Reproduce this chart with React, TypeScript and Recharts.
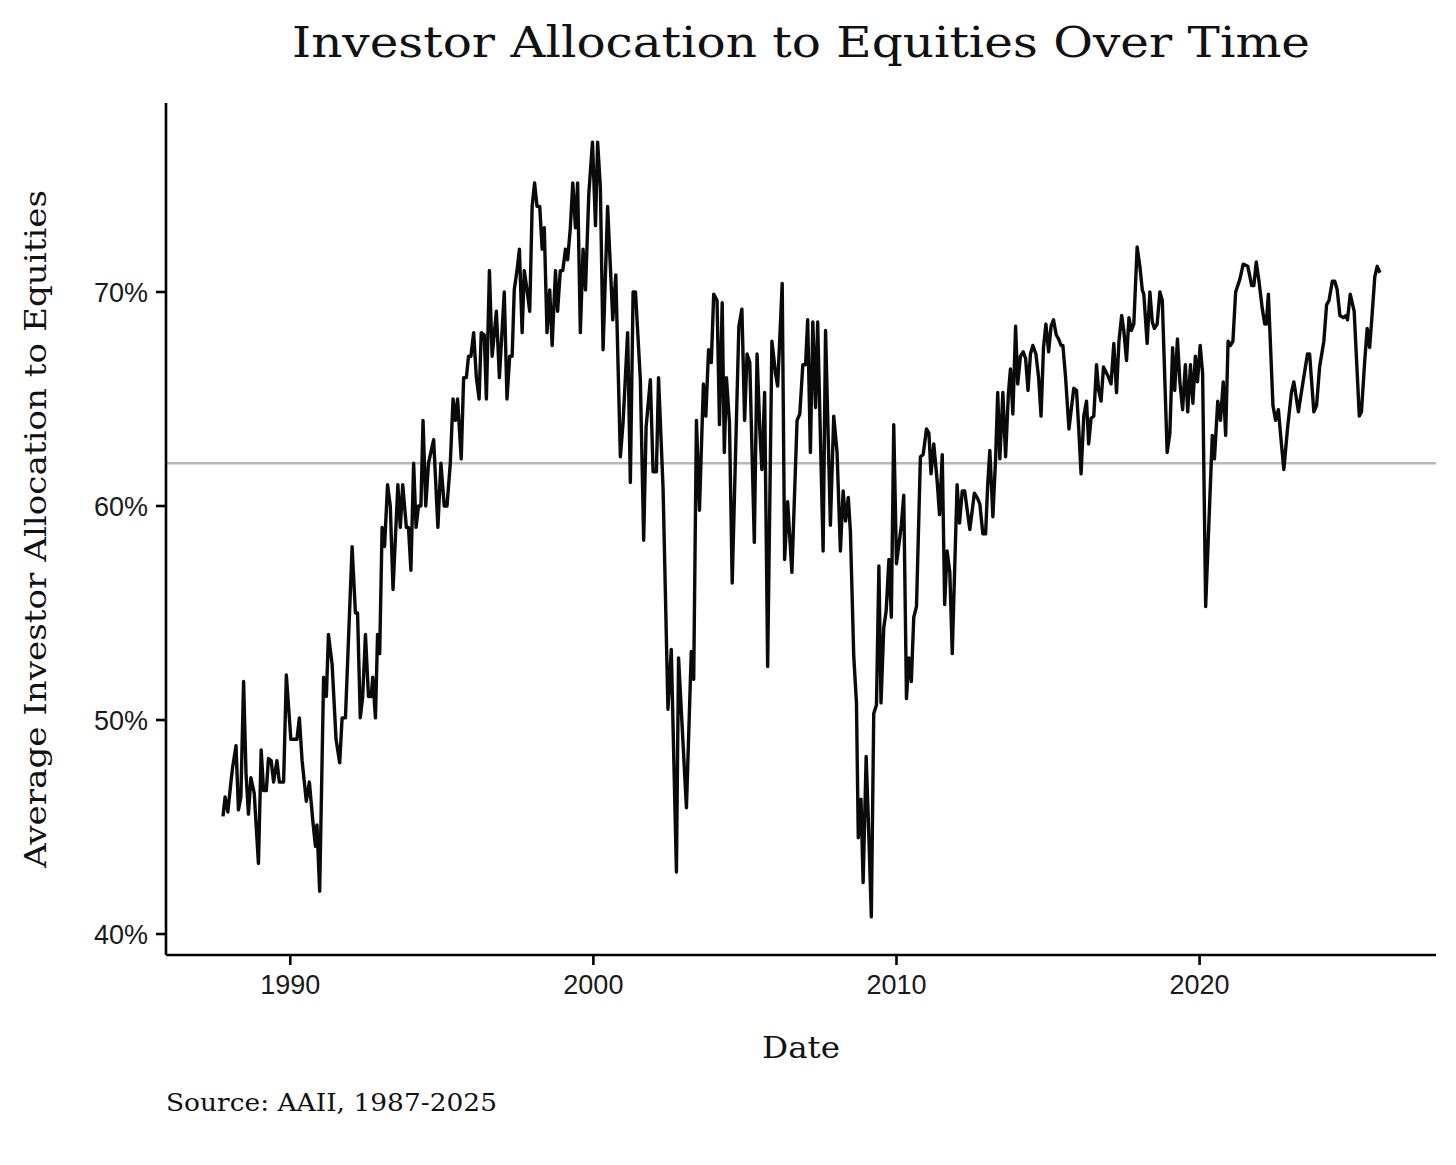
import { LineChart, Line, XAxis, YAxis, ReferenceLine } from "recharts";

// Monthly AAII average allocation to equities
const years = [
  1987.78, 1987.85, 1987.94, 1988.05, 1988.1, 1988.21, 1988.29, 1988.37, 1988.46, 1988.54,
  1988.62, 1988.7, 1988.81, 1988.95, 1989.04, 1989.12, 1989.21, 1989.28, 1989.37, 1989.45,
  1989.56, 1989.64, 1989.78, 1989.87, 1990.02, 1990.22, 1990.3, 1990.39, 1990.53, 1990.63,
  1990.75, 1990.83, 1990.88, 1990.97, 1991.1, 1991.19, 1991.26, 1991.38, 1991.51, 1991.63,
  1991.71, 1991.82, 1992.04, 1992.15, 1992.22, 1992.31, 1992.39, 1992.48, 1992.58, 1992.67,
  1992.72, 1992.81, 1992.88, 1992.95, 1993.03, 1993.11, 1993.21, 1993.3, 1993.39, 1993.55,
  1993.63, 1993.71, 1993.83, 1993.9, 1993.98, 1994.07, 1994.15, 1994.23, 1994.31, 1994.38,
  1994.47, 1994.56, 1994.73, 1994.87, 1994.97, 1995.08, 1995.17, 1995.28, 1995.37, 1995.45,
  1995.52, 1995.64, 1995.72, 1995.81, 1995.88, 1995.96, 1996.05, 1996.14, 1996.23, 1996.3,
  1996.4, 1996.47, 1996.57, 1996.66, 1996.8, 1996.9, 1997.06, 1997.15, 1997.24, 1997.32,
  1997.39, 1997.48, 1997.56, 1997.65, 1997.72, 1997.81, 1997.9, 1997.98, 1998.06, 1998.14,
  1998.23, 1998.31, 1998.38, 1998.47, 1998.56, 1998.64, 1998.75, 1998.82, 1998.91, 1998.99,
  1999.08, 1999.15, 1999.24, 1999.32, 1999.41, 1999.48, 1999.57, 1999.66, 1999.74, 1999.85,
  1999.97, 2000.07, 2000.14, 2000.23, 2000.32, 2000.47, 2000.64, 2000.74, 2000.89, 2000.98,
  2001.13, 2001.22, 2001.31, 2001.39, 2001.55, 2001.66, 2001.74, 2001.88, 2001.97, 2002.08,
  2002.15, 2002.3, 2002.46, 2002.57, 2002.74, 2002.81, 2003.07, 2003.23, 2003.31, 2003.4,
  2003.5, 2003.63, 2003.71, 2003.8, 2003.89, 2003.97, 2004.08, 2004.16, 2004.25, 2004.32,
  2004.39, 2004.49, 2004.58, 2004.8, 2004.9, 2004.99, 2005.07, 2005.16, 2005.31, 2005.4,
  2005.49, 2005.56, 2005.65, 2005.75, 2005.89, 2006.01, 2006.08, 2006.23, 2006.31, 2006.41,
  2006.55, 2006.72, 2006.81, 2006.91, 2007.0, 2007.07, 2007.16, 2007.24, 2007.33, 2007.4,
  2007.58, 2007.66, 2007.82, 2007.93, 2008.04, 2008.15, 2008.24, 2008.32, 2008.41, 2008.48,
  2008.59, 2008.68, 2008.74, 2008.83, 2008.9, 2009.0, 2009.09, 2009.17, 2009.25, 2009.34,
  2009.42, 2009.49, 2009.58, 2009.66, 2009.75, 2009.83, 2009.91, 2010.0, 2010.08, 2010.16,
  2010.24, 2010.33, 2010.41, 2010.49, 2010.57, 2010.66, 2010.79, 2010.88, 2010.99, 2011.07,
  2011.14, 2011.23, 2011.34, 2011.42, 2011.51, 2011.59, 2011.67, 2011.76, 2011.84, 2012.0,
  2012.08, 2012.17, 2012.25, 2012.42, 2012.57, 2012.66, 2012.75, 2012.85, 2012.94, 2013.01,
  2013.08, 2013.18, 2013.27, 2013.34, 2013.41, 2013.51, 2013.6, 2013.69, 2013.76, 2013.84,
  2013.93, 2014.0, 2014.09, 2014.18, 2014.26, 2014.34, 2014.42, 2014.5, 2014.6, 2014.69,
  2014.77, 2014.85, 2014.93, 2015.02, 2015.1, 2015.18, 2015.27, 2015.35, 2015.43, 2015.49,
  2015.58, 2015.69, 2015.85, 2015.94, 2016.01, 2016.09, 2016.18, 2016.27, 2016.34, 2016.42,
  2016.51, 2016.6, 2016.67, 2016.75, 2016.83, 2016.97, 2017.08, 2017.17, 2017.26, 2017.34,
  2017.43, 2017.5, 2017.59, 2017.67, 2017.75, 2017.83, 2017.94, 2018.03, 2018.11, 2018.16,
  2018.27, 2018.36, 2018.44, 2018.51, 2018.6, 2018.69, 2018.77, 2018.93, 2019.02, 2019.11,
  2019.18, 2019.27, 2019.35, 2019.44, 2019.53, 2019.61, 2019.7, 2019.78, 2019.86, 2019.93,
  2020.02, 2020.1, 2020.2, 2020.42, 2020.49, 2020.6, 2020.69, 2020.78, 2020.86, 2020.94,
  2021.02, 2021.1, 2021.19, 2021.33, 2021.44, 2021.59, 2021.72, 2021.79, 2021.87, 2021.96,
  2022.07, 2022.15, 2022.2, 2022.27, 2022.42, 2022.51, 2022.6, 2022.7, 2022.78, 2022.9,
  2023.03, 2023.11, 2023.26, 2023.39, 2023.56, 2023.63, 2023.77, 2023.86, 2023.96, 2024.1,
  2024.19, 2024.27, 2024.38, 2024.46, 2024.54, 2024.63, 2024.74, 2024.83, 2024.88, 2024.97,
  2025.1, 2025.27, 2025.34, 2025.45, 2025.53, 2025.61, 2025.69, 2025.78, 2025.86, 2025.95,
];

const allocation = [
  45.5, 46.4, 45.7, 47.2, 47.8, 48.8, 45.8, 46.4, 51.8, 47.5,
  45.6, 47.3, 46.6, 43.3, 48.6, 46.7, 46.7, 48.2, 48.1, 47.1,
  48.1, 47.1, 47.1, 52.1, 49.1, 49.1, 50.1, 48.1, 46.2, 47.1,
  45.2, 44.1, 45.1, 42.0, 52.0, 51.1, 54.0, 52.6, 49.1, 48.0,
  50.1, 50.1, 58.1, 55.0, 55.0, 50.1, 51.1, 54.0, 51.1, 51.1,
  52.0, 50.1, 54.0, 53.1, 59.0, 58.1, 61.0, 60.0, 56.1, 61.0,
  59.0, 61.0, 59.0, 59.0, 57.0, 62.0, 59.0, 60.0, 60.0, 64.0,
  60.0, 62.0, 63.1, 59.0, 62.0, 60.0, 60.0, 62.0, 65.0, 64.0,
  65.0, 62.2, 66.0, 66.0, 67.0, 67.0, 68.1, 66.0, 65.0, 68.1,
  68.0, 65.0, 71.0, 67.0, 69.1, 66.0, 70.0, 65.0, 67.0, 67.0,
  70.1, 71.0, 72.0, 68.1, 71.0, 70.1, 69.1, 74.0, 75.1, 74.0,
  74.0, 72.0, 73.0, 68.1, 70.1, 67.5, 71.0, 69.1, 71.0, 71.0,
  72.0, 71.5, 73.0, 75.1, 73.0, 75.1, 68.1, 72.0, 70.1, 74.6,
  77.0, 73.1, 77.0, 74.9, 67.3, 74.0, 68.7, 70.8, 62.3, 63.9,
  68.1, 61.1, 70.0, 70.0, 65.9, 58.4, 63.7, 65.9, 61.6, 61.6,
  66.0, 60.8, 50.5, 53.3, 42.9, 52.9, 45.9, 53.2, 51.9, 64.0,
  59.8, 65.7, 64.2, 67.3, 66.7, 69.9, 69.6, 63.8, 69.5, 62.5,
  66.0, 63.9, 56.4, 68.4, 69.2, 64.0, 67.1, 66.7, 58.3, 67.1,
  63.6, 61.7, 65.3, 52.5, 67.7, 66.2, 65.6, 70.4, 57.5, 60.2,
  56.9, 64.0, 64.3, 66.6, 66.6, 68.7, 62.5, 68.6, 64.6, 68.6,
  57.9, 68.2, 59.1, 64.2, 62.5, 57.9, 60.7, 59.3, 60.4, 58.8,
  53.0, 50.8, 44.5, 46.3, 42.4, 48.3, 44.5, 40.8, 50.3, 50.7,
  57.2, 50.8, 54.3, 55.1, 57.5, 54.8, 63.8, 57.3, 58.2, 59.1,
  60.5, 51.0, 52.9, 51.8, 54.8, 55.3, 62.3, 62.4, 63.6, 63.4,
  61.5, 62.9, 61.2, 59.6, 62.4, 55.4, 57.9, 56.9, 53.1, 61.0,
  59.2, 60.7, 60.7, 58.9, 60.6, 60.4, 60.1, 58.7, 58.7, 61.0,
  62.6, 59.5, 62.2, 65.3, 62.2, 65.3, 62.3, 65.2, 66.4, 64.3,
  68.4, 65.7, 67.0, 67.2, 66.9, 65.4, 67.1, 67.5, 67.1, 66.0,
  64.2, 67.4, 68.5, 67.2, 68.4, 68.7, 68.0, 67.8, 67.5, 67.5,
  66.0, 63.6, 65.5, 65.4, 63.7, 61.5, 64.2, 64.9, 62.9, 64.1,
  64.2, 66.6, 65.4, 64.9, 66.5, 66.1, 65.7, 67.6, 65.3, 67.7,
  68.9, 68.2, 66.8, 68.8, 68.2, 68.5, 72.1, 71.2, 70.1, 69.9,
  67.6, 70.0, 68.6, 68.3, 68.5, 70.0, 69.6, 62.5, 63.4, 67.4,
  65.4, 67.8, 65.8, 64.5, 66.6, 64.4, 66.6, 64.8, 67.0, 65.8,
  67.5, 66.2, 55.3, 63.3, 62.2, 64.9, 64.0, 65.8, 63.3, 67.7,
  67.5, 67.7, 70.0, 70.6, 71.3, 71.2, 70.3, 70.3, 71.4, 70.5,
  69.2, 68.5, 68.5, 69.9, 64.7, 64.0, 64.5, 62.9, 61.7, 63.6,
  65.3, 65.8, 64.4, 65.6, 67.1, 67.1, 64.4, 64.7, 66.5, 67.7,
  69.4, 69.6, 70.5, 70.5, 70.1, 68.9, 68.8, 68.9, 68.7, 69.9,
  69.1, 64.2, 64.4, 66.8, 68.3, 67.4, 68.9, 70.7, 71.2, 70.9,
];

const yearTicks = [1990, 2000, 2010, 2020];
const pctTicks = [40, 50, 60, 70];
const longRunAverage = 62;

const data = years.map((year, i) => ({ year, allocation: allocation[i] }));

const serif = "'DejaVu Serif', serif";
const sans = "'Liberation Sans', Arial, sans-serif";
const tickStyle = { fontFamily: sans, fontSize: 27, fill: "#1a1a1a" };

export default function App() {
  return (
    <div
      style={{
        position: "absolute",
        left: 0,
        top: 0,
        width: 1456,
        height: 1165,
        background: "#fff",
      }}
    >
      <LineChart
        width={1456}
        height={1165}
        data={data}
        margin={{ top: 103, right: 20, bottom: 150, left: 86 }}
      >
        <XAxis
          dataKey="year"
          type="number"
          domain={[1985.9, 2027.8]}
          allowDataOverflow
          ticks={yearTicks}
          interval={0}
          height={60}
          tick={tickStyle}
          tickSize={10}
          tickMargin={10}
          axisLine={{ stroke: "#000", strokeWidth: 2.6 }}
          tickLine={{ stroke: "#000", strokeWidth: 2.6 }}
        />
        <YAxis
          type="number"
          domain={[39.02, 78.83]}
          allowDataOverflow
          ticks={pctTicks}
          interval={0}
          width={80}
          tick={tickStyle}
          tickSize={10}
          tickMargin={8}
          tickFormatter={(v) => `${v}%`}
          axisLine={{ stroke: "#000", strokeWidth: 2.6 }}
          tickLine={{ stroke: "#000", strokeWidth: 2.6 }}
        />
        <ReferenceLine y={longRunAverage} stroke="#b8b8b8" strokeWidth={2.6} />
        <Line
          type="linear"
          dataKey="allocation"
          stroke="#0a0a0a"
          strokeWidth={3.4}
          dot={false}
          strokeLinejoin="round"
          isAnimationActive={false}
        />
      </LineChart>
      <svg
        width={1456}
        height={1165}
        style={{ position: "absolute", left: 0, top: 0, pointerEvents: "none" }}
      >
        <text
          x={801}
          y={57}
          textAnchor="middle"
          fontFamily={serif}
          fontSize={43}
          textLength={1018}
          lengthAdjust="spacingAndGlyphs"
          fill="#111"
        >
          Investor Allocation to Equities Over Time
        </text>
        <text
          x={46}
          y={529}
          transform="rotate(-90 46 529)"
          textAnchor="middle"
          fontFamily={serif}
          fontSize={30}
          textLength={678}
          lengthAdjust="spacingAndGlyphs"
          fill="#111"
        >
          Average Investor Allocation to Equities
        </text>
        <text
          x={801}
          y={1058}
          textAnchor="middle"
          fontFamily={serif}
          fontSize={30}
          textLength={78}
          lengthAdjust="spacingAndGlyphs"
          fill="#111"
        >
          Date
        </text>
        <text
          x={166}
          y={1111}
          fontFamily={serif}
          fontSize={25}
          textLength={331}
          lengthAdjust="spacingAndGlyphs"
          fill="#111"
        >
          Source: AAII, 1987-2025
        </text>
      </svg>
    </div>
  );
}
